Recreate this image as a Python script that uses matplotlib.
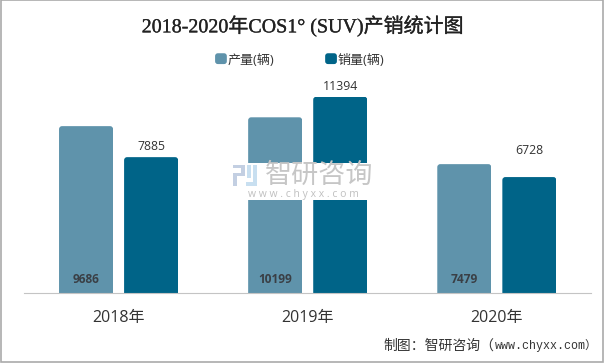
import matplotlib
matplotlib.use("Agg")
import matplotlib.pyplot as plt
import matplotlib.patheffects as pe
from matplotlib.legend_handler import HandlerPatch
from matplotlib.patches import FancyBboxPatch, Rectangle
from matplotlib.transforms import IdentityTransform

SANS = ["Open Sans", "Noto Sans CJK SC", "DejaVu Sans"]
SERIF = ["Liberation Serif", "Noto Sans CJK SC", "DejaVu Sans"]
MONO = ["Liberation Mono", "Noto Sans CJK SC", "DejaVu Sans"]
plt.rcParams["font.family"] = SANS

years = ["2018年", "2019年", "2020年"]
production = [9686, 10199, 7479]
sales = [7885, 11394, 6728]
series_names = ["产量(辆)", "销量(辆)"]
title = "2018-2020年COS1° (SUV)产销统计图"
source_cn = "制图：智研咨询（"
source_url = "www.chyxx.com）"

W, H = 605, 364
fig = plt.figure(figsize=((W + 0.4) / 100, (H + 0.4) / 100), dpi=100, facecolor="white")


def px_axes(x0, y0, x1, y1):
    return [x0 / W, 1 - y1 / H, (x1 - x0) / W, (y1 - y0) / H]


def px_rect(x0, y0, x1, y1, color, z=6):
    fig.add_artist(Rectangle((x0 / W, 1 - y1 / H), (x1 - x0) / W, (y1 - y0) / H,
                             transform=fig.transFigure, fc=color, ec="none", zorder=z))


def round_swatch(legend, orig_handle, xdescent, ydescent, width, height, fontsize):
    return FancyBboxPatch((-xdescent, -ydescent), width, height,
                          boxstyle="round,pad=0,rounding_size=2")


ax = fig.add_axes(px_axes(24, 40, 591, 293))
ax.set_xlim(-0.5, 2.5)
ax.set_ylim(0, 14709)
ax.patch.set_alpha(0)

xs = list(range(len(years)))
off = 0.172
bw = 0.2857
prod_bars = ax.bar([x - off for x in xs], production, bw, color="#5f93ab", label=series_names[0])
sale_bars = ax.bar([x + off for x in xs], sales, bw, color="#006488", label=series_names[1])

# round the top corners of the bars
fig.canvas.draw()
for b in list(prod_bars) + list(sale_bars):
    e = b.get_window_extent()
    clip = FancyBboxPatch((e.x0, e.y0 - 6), e.width, e.height + 6,
                          boxstyle="round,pad=0,rounding_size=3", transform=IdentityTransform())
    b.set_clip_path(clip)

# value labels sit at odd places in the original
for x, v in zip(xs, production):
    ax.annotate(str(v), (x - off, 0), xytext=(0, 14), textcoords="offset pixels", ha="center",
                va="center", fontsize=8.6, fontweight="bold", color="#3a3f45")
sale_offsets = [11, 11, 27]
for x, v, o in zip(xs, sales, sale_offsets):
    ax.annotate(str(v), (x + off, v), xytext=(0, o), textcoords="offset pixels", ha="center",
                va="center", fontsize=8.8, color="#333333")

for s in ["top", "left", "right"]:
    ax.spines[s].set_visible(False)
ax.spines["bottom"].set_color("#c4c4c4")
ax.spines["bottom"].set_linewidth(0.8)
ax.spines["bottom"].set_linestyle((0, (1, 1)))
ax.set_yticks([])
ax.set_xticks(xs)
ax.set_xticklabels(years, fontsize=11.5, color="#333333")
ax.tick_params(axis="x", length=0, pad=12)

handles = [prod_bars.patches[0], sale_bars.patches[0]]
leg = fig.legend(handles, series_names, loc="center", bbox_to_anchor=(299.5 / W, 1 - 60 / H), ncol=2,
                 frameon=False, fontsize=9.4, handlelength=0.9, handleheight=0.9, handletextpad=0.05,
                 columnspacing=3.9, labelcolor="#333333", borderpad=0,
                 handler_map={h: HandlerPatch(patch_func=round_swatch) for h in handles})

fig.text(302.5 / W, 1 - 27 / H, title, ha="center", va="center", fontsize=14.4, family=SERIF,
         color="#222222", path_effects=[pe.withStroke(linewidth=0.2, foreground="#222222")])
fig.text(383 / W, 1 - 345 / H, source_cn, ha="left", va="center", fontsize=10, color="#333333",
         family=["Noto Sans CJK SC"])
fig.text(495 / W, 1 - 345 / H, source_url, ha="left", va="center", fontsize=8.4, family=MONO,
         color="#333333")

# watermark on a white band
px_rect(233, 163, 373, 200, "white", z=5)
for r in [(233, 165, 245, 168), (241, 165, 245, 176), (233, 173, 245, 176), (233, 173, 237, 186)]:
    px_rect(*r, "#c3cfe2")
for r in [(253, 165, 257, 186), (246, 182, 257, 186), (247, 165, 251, 178)]:
    px_rect(*r, "#c8dff0")
fig.text(319 / W, 1 - 175 / H, "智研咨询", ha="center", va="center", fontsize=19.5, color="#c6c6c6",
         family=["Noto Sans CJK SC"], zorder=6)
fig.text(303 / W, 1 - 194 / H, "w w w . c h y x x . c o m", ha="center", va="center", fontsize=7.5,
         color="#c0c0c0", zorder=6)

# thin grey frame round the picture
fig.add_artist(Rectangle((0.5 / W, 1 - 362.5 / H), 602.5 / W, 362 / H, transform=fig.transFigure,
                         fc="none", ec="#aaaaaa", lw=1.2, zorder=9))

fig.savefig("out.png", dpi=100, facecolor="white")
